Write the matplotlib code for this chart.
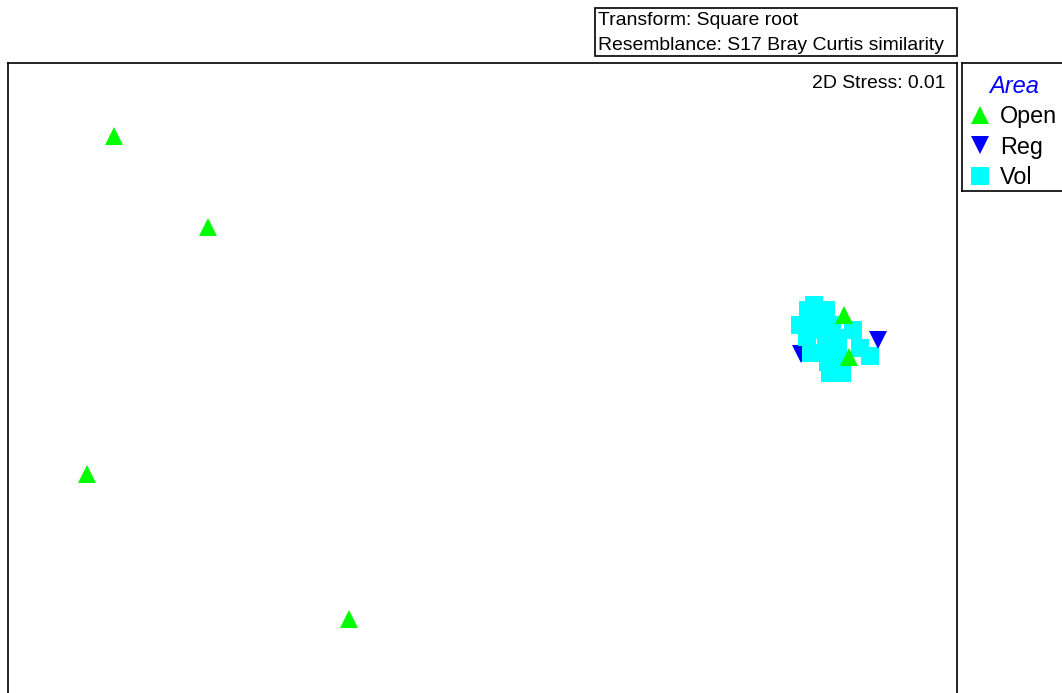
import matplotlib
matplotlib.use("Agg")
import matplotlib.pyplot as plt
from matplotlib.font_manager import FontProperties
from matplotlib.lines import Line2D
from matplotlib.patches import Rectangle

# ---------------- data (MDS coordinates) ----------------
groups = ["Open", "Reg", "Vol"]
group_colors = {"Open": "#00ff00", "Reg": "#0000ff", "Vol": "#00ffff"}
group_markers = {"Open": "^", "Reg": "v", "Vol": "s"}

# samples in drawing order (later ones drawn on top)
sample_group = ["Open", "Reg",
                "Vol", "Vol", "Vol", "Vol", "Vol", "Vol", "Vol", "Vol", "Vol",
                "Vol", "Vol", "Vol", "Vol", "Vol", "Vol", "Vol", "Vol", "Vol",
                "Reg", "Open", "Open",
                "Open", "Open", "Open", "Open"]
sample_x = [1.735, 1.590,
            1.655, 1.625, 1.715, 1.585, 1.665, 1.745, 1.6175, 1.640, 1.715,
            1.850, 1.775, 1.885, 1.935, 1.725, 1.735, 1.795, 1.775, 1.695,
            1.975, 1.805, 1.830,
            -1.8475, -1.375, -1.9825, -0.6725]
sample_y = [0.165, 0.2325,
            0.475, 0.450, 0.450, 0.375, 0.390, 0.375, 0.315, 0.235, 0.260,
            0.350, 0.310, 0.260, 0.2225, 0.190, 0.135, 0.135, 0.225, 0.350,
            0.3025, 0.4275, 0.2175,
            1.3225, 0.8675, -0.370, -1.0925]

stress_text = "2D Stress: 0.01"
info_lines = ["Transform: Square root", "Resemblance: S17 Bray Curtis similarity"]
legend_title = "Area"

plt.rcParams["font.family"] = ["Liberation Sans", "DejaVu Sans"]

W, H = 1062, 693
fig = plt.figure(figsize=(W / 100, H / 100), dpi=100)
renderer = fig.canvas.get_renderer()

def fx(px):
    return px / W

def fy(py):
    return 1 - py / H

def make_fp(size):
    return FontProperties(family=["Liberation Sans", "DejaVu Sans"], size=size)

# fit the small-text size so "Transform: Square root" is ~199 px wide
size = 11.0
for _ in range(3):
    t = fig.text(0, 0, info_lines[0], fontproperties=make_fp(size))
    w = t.get_window_extent(renderer).width
    t.remove()
    size = size * 199.0 / w
size = min(size, 14.0)
small_fp = make_fp(size)

# main plot axes (bottom runs off the figure)
ax_top, ax_bot = 63, 760
ax = fig.add_axes([fx(8), fy(ax_bot), fx(957) - fx(8), fy(ax_top) - fy(ax_bot)])
ax.set_xlim(-2.375, 2.37)
ax.set_ylim(-1.8, 1.685)
ax.set_xticks([])
ax.set_yticks([])
for sp in ax.spines.values():
    sp.set_linewidth(1.2)
    sp.set_color("black")

for i, (g, x, y) in enumerate(zip(sample_group, sample_x, sample_y)):
    ms = 12.3 if g == "Vol" else 13.5
    ax.plot([x], [y], linestyle="none", marker=group_markers[g], markersize=ms,
            markerfacecolor=group_colors[g], markeredgewidth=0, zorder=2 + i * 0.01)

ax.text((945 - 8) / 949, (ax_bot - 83.5) / (ax_bot - ax_top), stress_text,
        transform=ax.transAxes, ha="right", va="center", fontproperties=small_fp)

# info box (transform / resemblance)
fig.patches.append(Rectangle((fx(595), fy(56)), fx(957) - fx(595), fy(8) - fy(56),
                             transform=fig.transFigure, fill=False,
                             edgecolor="black", linewidth=1.2))
fig.text(fx(598), fy(20.5), info_lines[0], ha="left", va="center", fontproperties=small_fp)
fig.text(fx(598), fy(45.5), info_lines[1], ha="left", va="center", fontproperties=small_fp)

# legend box
lax = fig.add_axes([fx(962), fy(191), fx(1080) - fx(962), fy(63) - fy(191)])
lax.set_xticks([])
lax.set_yticks([])
for sp in lax.spines.values():
    sp.set_linewidth(1.2)

handles = [Line2D([], [], linestyle="none", marker=group_markers[g],
                  markersize=(12.3 if g == "Vol" else 13.5),
                  markerfacecolor=group_colors[g], markeredgewidth=0)
           for g in groups]
leg = lax.legend(handles, groups, loc="upper left", bbox_to_anchor=(fx(966), fy(70)),
                 bbox_transform=fig.transFigure, frameon=False, fontsize=16.8,
                 handlelength=0.8, handletextpad=0.45, labelspacing=0.32,
                 borderpad=0.2, borderaxespad=0, title=legend_title,
                 title_fontproperties={"size": 17, "style": "italic"})
leg.get_title().set_color("#0000ff")

fig.savefig("out.png", dpi=100)
